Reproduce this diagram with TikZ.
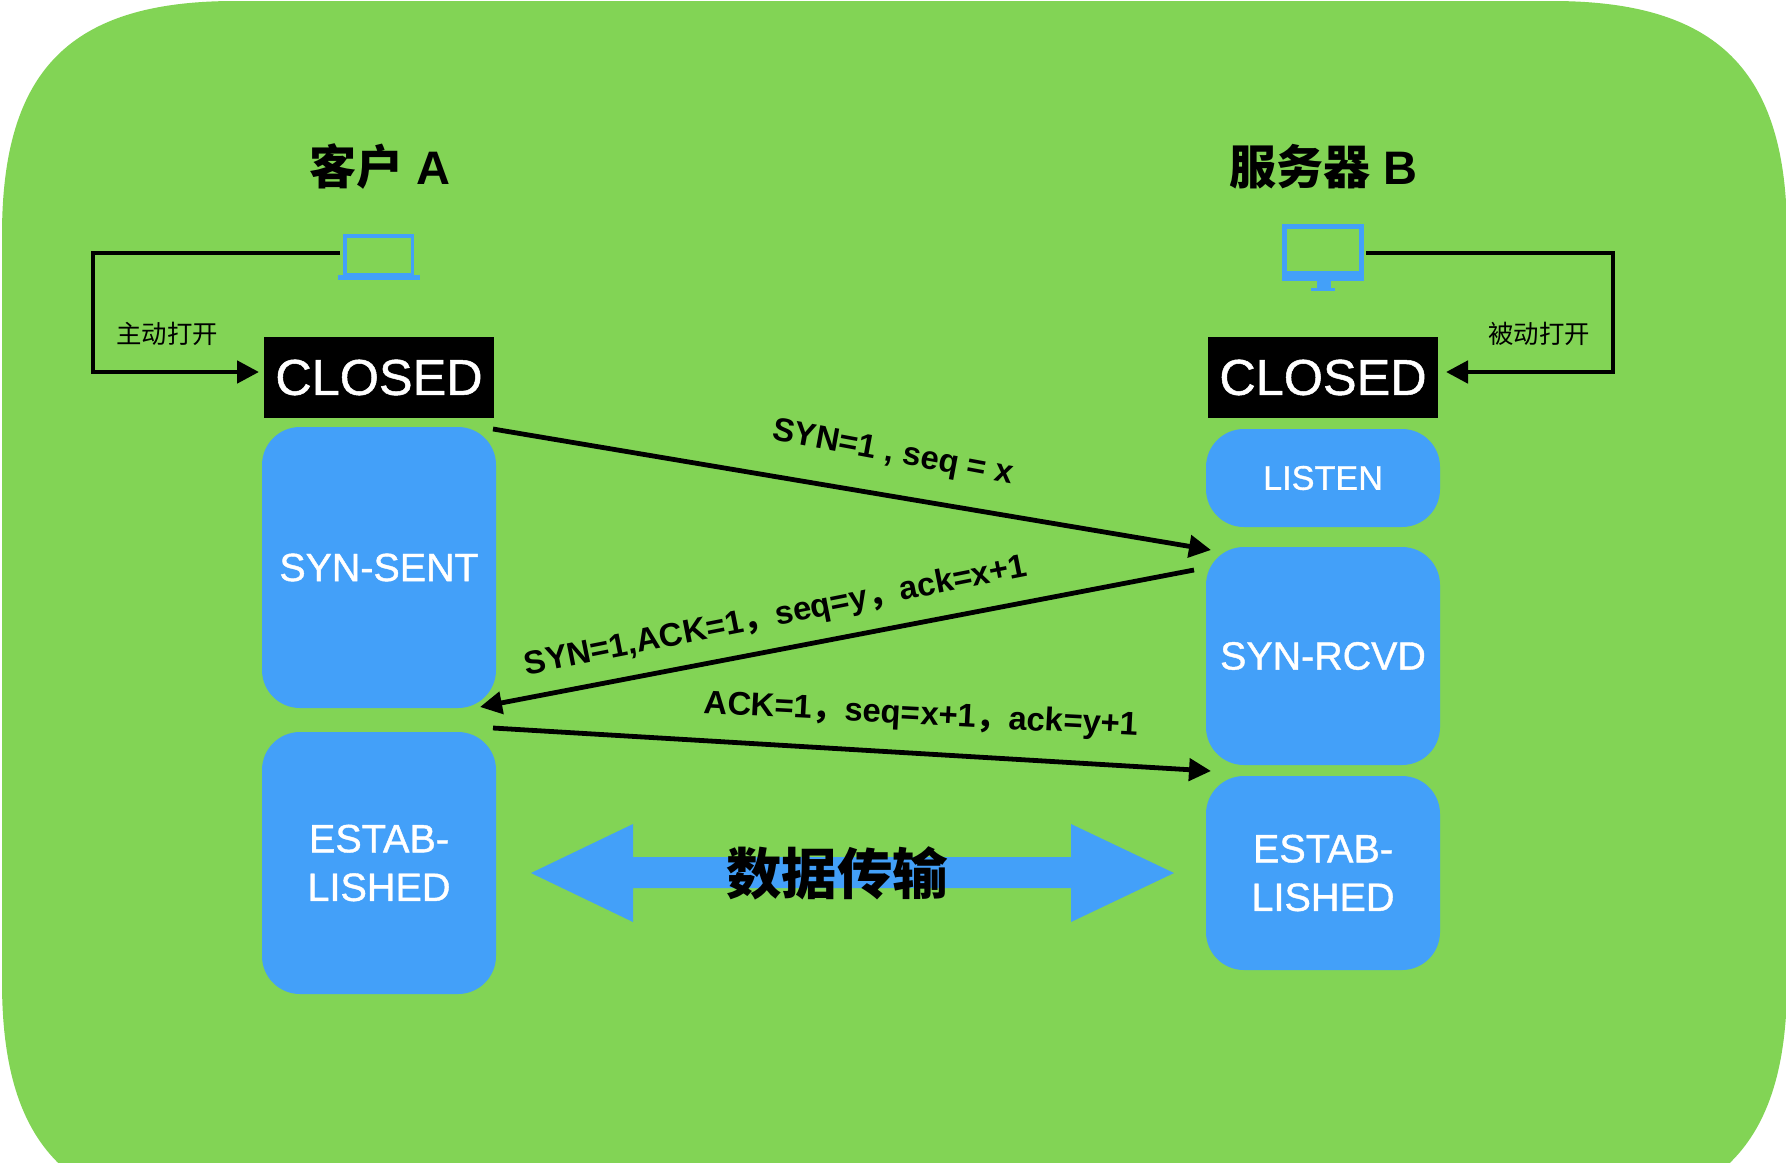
\documentclass[tikz,border=0pt]{standalone}
\usepackage{fontspec}
\setmainfont{Liberation Sans}
\newfontfamily\cjk{Noto Sans CJK SC}
\newfontfamily\hv[FakeBold=1.0]{Liberation Sans}
\usetikzlibrary{arrows.meta}
\definecolor{bggreen}{HTML}{82D455}
\definecolor{tcpblue}{HTML}{43A0F9}
\newcommand{\pxfont}[1]{\fontsize{#1}{#1}\selectfont}
\tikzset{
  stbox/.style={rectangle, rounded corners=19pt, fill=tcpblue, text=white, inner sep=0pt, outer sep=0pt, anchor=north west, align=center, minimum width=117pt},
  closedbox/.style={rectangle, fill=black, text=white, inner sep=0pt, outer sep=0pt, anchor=north west, minimum width=115pt, minimum height=40.5pt, font=\hv\pxfont{25.2}},
  conn/.style={draw=black, line width=2.4pt, -{Triangle[length=11pt,width=11pt]}},
  msg/.style={font=\pxfont{16.4}\bfseries, text=black, inner sep=0pt},
  icon/.style={draw=tcpblue, rectangle, inner sep=0pt, outer sep=0pt, anchor=north west},
  iconfill/.style={fill=tcpblue, rectangle, inner sep=0pt, outer sep=0pt, anchor=north west},
  title/.style={font=\pxfont{23.5}\bfseries, text=black, inner sep=0pt},
  small/.style={font=\cjk\pxfont{12.7}, text=black, inner sep=0pt}
}
\begin{document}
\begin{tikzpicture}[x=0.5pt,y=-0.5pt]
\useasboundingbox (0,0) rectangle (1786,1162);
\begin{scope}
\clip (0,0) rectangle (1786,1162);
\fill[bggreen] (2,235) .. controls (2,70) and (70,1) .. (235,1) -- (1552,1) .. controls (1717,1) and (1787,70) .. (1787,235) -- (1787,982) .. controls (1787,1147) and (1717,1217) .. (1552,1217) -- (235,1217) .. controls (70,1217) and (2,1147) .. (2,982) -- cycle;
\end{scope}
% titles
\node[title] (ta) at (380,167) {{\cjk 客户} A};
\node[title] (tb) at (1323,167) {{\cjk 服务器} B};
% laptop
\node[icon, line width=1.8pt, minimum width=33.8pt, minimum height=19.6pt] (laptop) at (344.8,235.8) {};
\node[iconfill, minimum width=41pt, minimum height=2.5pt] (lapbase) at (338,275) {};
% monitor
\node[icon, line width=2.6pt, minimum width=38.5pt, minimum height=24pt] (monitor) at (1284.5,226.5) {};
\node[iconfill, minimum width=41pt, minimum height=5pt] (monbar) at (1282,270.5) {};
\node[iconfill, minimum width=7pt, minimum height=4.5pt] (monstand) at (1316.5,280) {};
\node[iconfill, minimum width=12pt, minimum height=1.5pt] (monfoot) at (1311,288) {};
% closed
\node[closedbox] (ca) at (264,337) {CLOSED};
\node[closedbox] (cb) at (1208,337) {CLOSED};
% states
\node[stbox, minimum height=140.5pt, font=\hv\pxfont{19.7}] (synsent) at (262,427) {SYN-SENT};
\node[stbox, minimum height=131pt, font=\hv\pxfont{19.8}] (esta) at (262,732) {ESTAB-\\[4.5pt]LISHED};
\node[stbox, minimum height=49pt, font=\hv\pxfont{17.1}] (listen) at (1206,429) {LISTEN};
\node[stbox, minimum height=109pt, font=\hv\pxfont{19.7}] (synrcvd) at (1206,547) {SYN-RCVD};
\node[stbox, minimum height=97pt, font=\hv\pxfont{19.8}] (estb) at (1206,776) {ESTAB-\\[4.5pt]LISHED};
% open loops
\coordinate (lapout) at (340,253);
\coordinate (lapcorner) at (93,253);
\coordinate (lapdown) at (93,372);
\coordinate (catip) at (259,372);
\coordinate (monout) at (1366,253);
\coordinate (moncorner) at (1613,253);
\coordinate (mondown) at (1613,372);
\coordinate (cbtip) at (1446,372);
\draw[conn] (lapout) -- (lapcorner) -- (lapdown) -- (catip);
\draw[conn] (monout) -- (moncorner) -- (mondown) -- (cbtip);
\node[small] (zd) at (167,334) {主动打开};
\node[small] (bd) at (1539,334) {被动打开};
% handshake
\coordinate (s1) at (493,429);
\coordinate (e1) at (1211,550);
\coordinate (s2) at (1194,570);
\coordinate (e2) at (480,707);
\coordinate (s3) at (493,728);
\coordinate (e3) at (1211,771);
\draw[conn] (s1) -- (e1);
\draw[conn] (s2) -- (e2);
\draw[conn] (s3) -- (e3);
\node[msg, rotate=-10.5] (m1) at (893,454) {SYN=1 , seq = x};
\node[msg, rotate=11.2] (m2) at (776,617) {SYN=1,ACK=1{\cjk ，}seq=y{\cjk ，}ack=x+1};
\node[msg, rotate=-3] (m3) at (921,716) {ACK=1{\cjk ，}seq=x+1{\cjk ，}ack=y+1};
% data transfer
\fill[tcpblue] (531,873) -- (633,824) -- (633,857) -- (1071,857) -- (1071,824) -- (1174,873) -- (1071,922) -- (1071,888) -- (633,888) -- (633,922) -- cycle;
\node[font=\cjk\bfseries\pxfont{27.7}, text=black, inner sep=0pt] (data) at (837,873) {数据传输};
\end{tikzpicture}
\end{document}
